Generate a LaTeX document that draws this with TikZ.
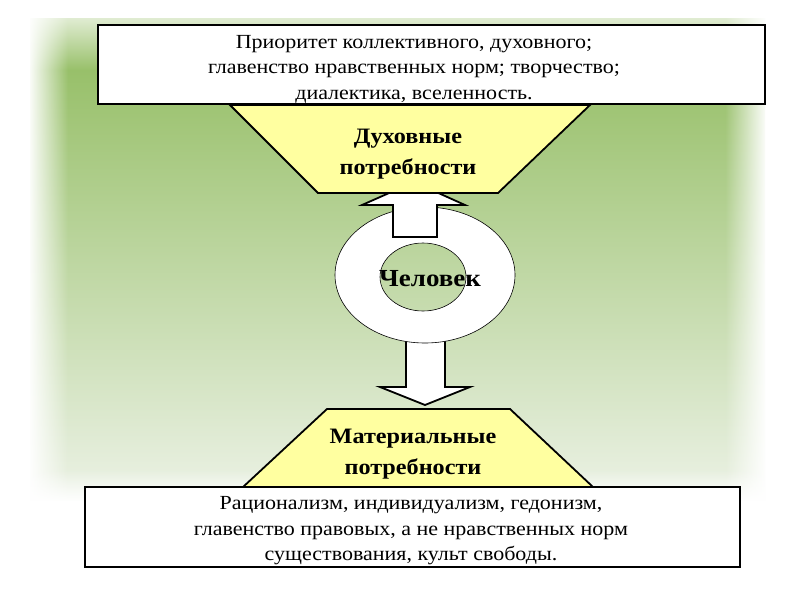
\documentclass[tikz,border=0pt]{standalone}
\usepackage{fontspec}
\setmainfont{Liberation Serif}
\newfontfamily\wideserif[FakeStretch=1.1]{Liberation Serif}
\usetikzlibrary{fadings}
\definecolor{bggreen}{RGB}{152,192,106}
\definecolor{bglight}{RGB}{236,242,230}
\definecolor{needyellow}{RGB}{255,255,160}
\tikzfading[name=fade out left, left color=transparent!0, right color=transparent!100]
\tikzfading[name=fade out right, left color=transparent!100, right color=transparent!0]
\tikzfading[name=fade out bottom, top color=transparent!100, bottom color=transparent!0]
\tikzset{
  text box/.style={draw,line width=1.8pt,fill=white,inner sep=0pt},
  box text/.style={align=center,inner sep=0pt,font=\wideserif\fontsize{20}{25.5}\selectfont},
  need shape/.style={draw,line width=1.8pt,fill=needyellow,line join=miter},
  need label/.style={align=center,font=\wideserif\fontsize{22}{31}\selectfont\bfseries},
  block arrow/.style={draw,line width=1.8pt,fill=white,line join=miter},
  ring/.style={draw,line width=0.6pt,fill=white,even odd rule}
}

\begin{document}
\begin{tikzpicture}[x=1pt,y=-1pt]
  \useasboundingbox (0,0) rectangle (794,595);
  % background
  \shade[top color=bggreen!30!white, bottom color=bggreen] (30,18) rectangle (765,70);
  \shade[top color=bggreen, bottom color=bglight] (30,70) rectangle (765,500);
  \fill[white,path fading=fade out left] (28,16) rectangle (68,502);
  \fill[white,path fading=fade out right] (725,16) rectangle (767,502);
  \fill[white,path fading=fade out bottom] (28,470) rectangle (767,502);

  % arrows and ring
  \draw[block arrow] (406,330) -- (406,387) -- (380,387) -- (425,405)
    -- (470,387) -- (445,387) -- (445,330) -- cycle;
  \path[ring] (425,275) ellipse [x radius=90, y radius=68]
    (423,277) ellipse [x radius=43, y radius=34];
  \draw[block arrow] (393,237) -- (393,205) -- (362,205) -- (414,182)
    -- (465,205) -- (437,205) -- (437,237) -- cycle;

  % needs
  \draw[need shape] (230,105) -- (590,105) -- (498,193) -- (318,193) -- cycle;
  \draw[need shape] (327,409) -- (510,409) -- (593,487) -- (243,487) -- cycle;

  \node[text box,minimum width=667,minimum height=79] (spirit box) at (431.5,64.5) {};
  \node[box text] (spirit text) at (414,69)
    {Приоритет коллективного, духовного;\\
     главенство нравственных норм; творчество;\\
     диалектика, вселенность.};
  \node[text box,minimum width=655,minimum height=80] (matter box) at (412.5,527) {};
  \node[box text] (matter text) at (411,531)
    {Рационализм, индивидуализм, гедонизм,\\
     главенство правовых, а не нравственных норм\\
     существования, культ свободы.};

  \node[need label] (spirit) at (408,154) {Духовные\\потребности};
  \node[need label] (matter) at (413,454) {Материальные\\потребности};
  \node[font=\wideserif\fontsize{24.5}{28}\selectfont\bfseries] (man) at (430,279) {Человек};
\end{tikzpicture}
\end{document}
